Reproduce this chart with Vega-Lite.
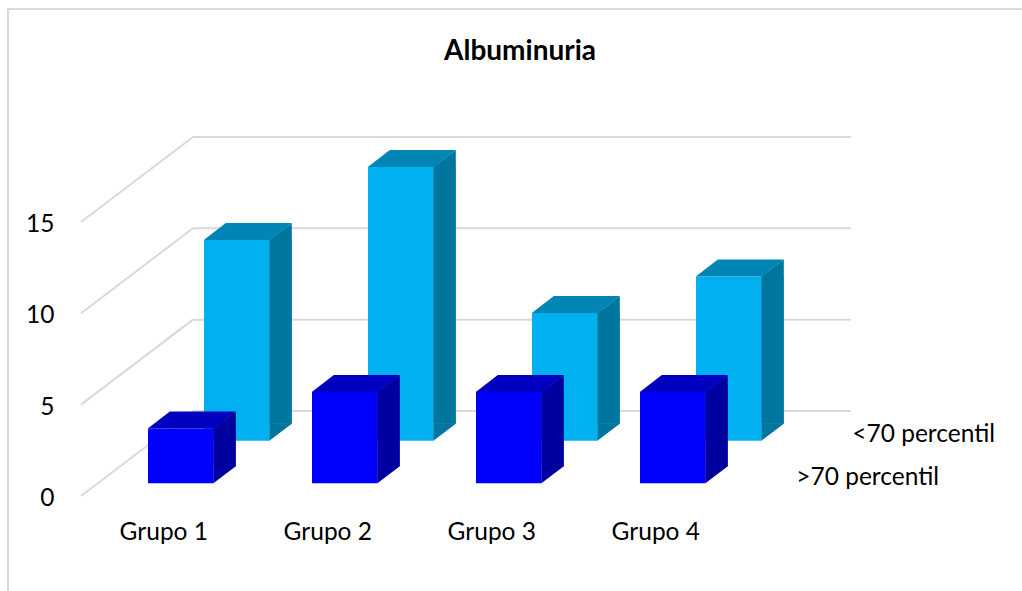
{"$schema":"https://vega.github.io/schema/vega-lite/v6.json","width":1016,"height":585,"autosize":{"type":"none"},"padding":{"left":8,"top":9,"right":0,"bottom":0},"background":"white","view":{"stroke":"#D9D9D9","strokeWidth":2,"fill":null},"config":{"font":"Lato","text":{"font":"Lato"}},"title":{"text":"Albuminuria","font":"Lato","fontSize":28,"fontWeight":"bold","color":"black","anchor":"middle","dx":4,"offset":-57},"data":{"values":[{"group":"Grupo 1","series":"<70 percentil","value":11},{"group":"Grupo 2","series":"<70 percentil","value":15},{"group":"Grupo 3","series":"<70 percentil","value":7},{"group":"Grupo 4","series":"<70 percentil","value":9},{"group":"Grupo 1","series":">70 percentil","value":3},{"group":"Grupo 2","series":">70 percentil","value":5},{"group":"Grupo 3","series":">70 percentil","value":5},{"group":"Grupo 4","series":">70 percentil","value":5}]},"encoding":{"x":{"field":"group","type":"nominal","sort":null,"scale":{"domain":["Grupo 1","Grupo 2","Grupo 3","Grupo 4"],"range":[90.8,746.8],"paddingInner":0.6,"paddingOuter":0.3},"axis":{"title":null,"domain":false,"ticks":false,"grid":false,"labelAngle":0,"labelFont":"Lato","labelFontSize":24.5,"labelColor":"black","labelOffset":-17,"offset":-74,"labelPadding":0}},"y":{"field":"value","type":"quantitative","stack":null,"scale":{"domain":[-5.364,26.655],"nice":false,"zero":false},"axis":{"title":null,"domain":false,"ticks":false,"grid":false,"values":[0,5,10,15],"labelFont":"Lato","labelFontSize":24.5,"labelColor":"black","labelOffset":2.5,"offset":-46,"labelPadding":0,"labelBaseline":"middle"}}},"layer":[{"data":{"values":[{"tick":0},{"tick":5},{"tick":10},{"tick":15}]},"mark":{"type":"rule","color":"#D9D9D9","strokeWidth":2,"xOffset":-99.8,"x2Offset":12.2,"y2Offset":-85},"encoding":{"x":{"datum":"Grupo 1"},"x2":{"datum":"Grupo 1"},"y":{"field":"tick","type":"quantitative"},"y2":{"field":"tick"}}},{"data":{"values":[{"tick":0},{"tick":5},{"tick":10},{"tick":15}]},"mark":{"type":"rule","color":"#D9D9D9","strokeWidth":2,"xOffset":12.2,"x2Offset":178.2,"yOffset":-85,"y2Offset":-85},"encoding":{"x":{"datum":"Grupo 1"},"x2":{"datum":"Grupo 4"},"y":{"field":"tick","type":"quantitative"},"y2":{"field":"tick"}}},{"transform":[{"filter":"datum.series === '<70 percentil'"}],"layer":[{"mark":{"type":"bar","color":"#00B0F0","xOffset":56,"yOffset":-55,"y2Offset":-55.3},"encoding":{"y2":{"datum":0}}},{"mark":{"type":"bar","color":"#00769F","width":22.6,"xOffset":99.8,"yOffset":-55,"y2Offset":-72.3},"encoding":{"y2":{"datum":0}}},{"mark":{"type":"point","filled":true,"opacity":1,"size":4,"color":"#00769F","strokeWidth":0,"shape":"M32.6 0L55 -17L55 0.5L32.6 0.5Z","xOffset":56,"yOffset":-55}},{"mark":{"type":"point","filled":true,"opacity":1,"size":4,"color":"#00769F","strokeWidth":0,"shape":"M32.6 0L55 -17L55 -17.5L32.6 -17.5Z","xOffset":56,"yOffset":-55.3},"encoding":{"y":{"datum":0,"type":"quantitative"}}},{"mark":{"type":"point","filled":true,"opacity":1,"size":4,"color":"#0085B5","strokeWidth":0,"shape":"M-33 0L33 0L55 -17L-11 -17Z","xOffset":56,"yOffset":-55}}]},{"transform":[{"filter":"datum.series === '>70 percentil'"}],"layer":[{"mark":{"type":"bar","color":"#0000FF","yOffset":-12.7,"y2Offset":-12.7},"encoding":{"y2":{"datum":0}}},{"mark":{"type":"bar","color":"#00009F","width":22.6,"xOffset":43.8,"yOffset":-12.7,"y2Offset":-29.7},"encoding":{"y2":{"datum":0}}},{"mark":{"type":"point","filled":true,"opacity":1,"size":4,"color":"#00009F","strokeWidth":0,"shape":"M32.6 0L55 -17L55 0.5L32.6 0.5Z","yOffset":-12.7}},{"mark":{"type":"point","filled":true,"opacity":1,"size":4,"color":"#00009F","strokeWidth":0,"shape":"M32.6 0L55 -17L55 -17.5L32.6 -17.5Z","yOffset":-12.7},"encoding":{"y":{"datum":0,"type":"quantitative"}}},{"mark":{"type":"point","filled":true,"opacity":1,"size":4,"color":"#0000C0","strokeWidth":0,"shape":"M-33 0L33 0L55 -17L-11 -17Z","yOffset":-12.7}}]},{"transform":[{"filter":"datum.group === 'Grupo 4' && datum.series === '<70 percentil'"}],"mark":{"type":"text","font":"Lato","fontSize":24.5,"color":"black","align":"left","baseline":"middle","xOffset":179.5,"yOffset":-60.5},"encoding":{"y":{"datum":0,"type":"quantitative"},"text":{"field":"series"}}},{"transform":[{"filter":"datum.group === 'Grupo 4' && datum.series === '>70 percentil'"}],"mark":{"type":"text","font":"Lato","fontSize":24.5,"color":"black","align":"left","baseline":"middle","xOffset":123.5,"yOffset":-17.5},"encoding":{"y":{"datum":0,"type":"quantitative"},"text":{"field":"series"}}}]}
